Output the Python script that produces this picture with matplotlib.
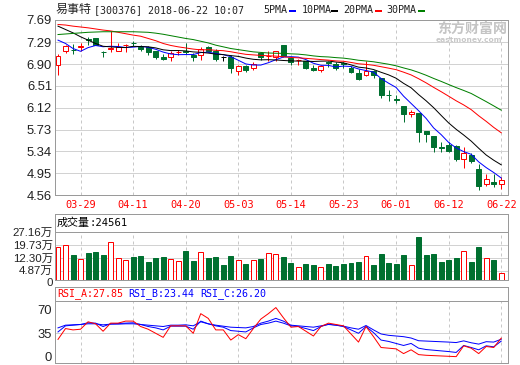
import matplotlib
matplotlib.use('Agg')
import matplotlib.pyplot as plt
from matplotlib.lines import Line2D
from matplotlib.transforms import ScaledTranslation
import numpy as np

# ---------------- data ----------------
dates = ['03-26', '03-27', '03-28', '03-29', '03-30', '04-02', '04-03', '04-04', '04-09', '04-10',
         '04-11', '04-12', '04-13', '04-16', '04-17', '04-18', '04-19', '04-20', '04-23', '04-24',
         '04-25', '04-26', '04-27', '05-02', '05-03', '05-04', '05-07', '05-08', '05-09', '05-10',
         '05-11', '05-14', '05-15', '05-16', '05-17', '05-18', '05-21', '05-22', '05-23', '05-24',
         '05-25', '05-28', '05-29', '05-30', '05-31', '06-01', '06-04', '06-05', '06-06', '06-07',
         '06-08', '06-11', '06-12', '06-13', '06-14', '06-15', '06-19', '06-20', '06-21', '06-22']
label_dates = ['03-29', '04-11', '04-20', '05-03', '05-14', '05-23', '06-01', '06-12', '06-22']

opens = [6.88, 7.14, 7.16, 7.21, 7.35, 7.36, 7.12, 7.18, 7.13, 7.24,
         7.28, 7.21, 7.20, 7.13, 7.02, 7.02, 7.11, 7.13, 7.07, 7.07,
         7.21, 7.14, 7.02, 7.02, 6.78, 6.87, 6.83, 7.10, 7.04, 7.02,
         7.24, 7.01, 6.97, 6.95, 6.84, 6.80, 6.93, 6.90, 6.92, 6.83,
         6.74, 6.70, 6.78, 6.66, 6.35, 6.28, 6.16, 6.00, 6.02, 5.70,
         5.61, 5.41, 5.45, 5.44, 5.20, 5.27, 5.02, 4.75, 4.80, 4.75]
closes = [7.05, 7.22, 7.15, 7.22, 7.34, 7.24, 7.11, 7.19, 7.20, 7.25,
          7.27, 7.18, 7.11, 7.02, 7.00, 7.10, 7.12, 7.12, 7.02, 7.18,
          7.13, 7.00, 7.02, 6.84, 6.86, 6.80, 6.90, 7.02, 7.05, 7.13,
          7.04, 6.93, 6.98, 6.83, 6.80, 6.86, 6.92, 6.84, 6.91, 6.76,
          6.64, 6.78, 6.70, 6.34, 6.34, 6.26, 6.00, 6.05, 5.69, 5.65,
          5.41, 5.40, 5.35, 5.20, 5.32, 5.17, 4.72, 4.84, 4.76, 4.83]
highs = [7.08, 7.25, 7.26, 7.28, 7.38, 7.37, 7.14, 7.49, 7.27, 7.26,
         7.31, 7.25, 7.22, 7.14, 7.08, 7.14, 7.16, 7.28, 7.10, 7.20,
         7.23, 7.18, 7.05, 7.06, 6.89, 6.88, 6.93, 7.12, 7.14, 7.14,
         7.24, 7.02, 7.00, 6.96, 6.89, 6.89, 6.95, 6.93, 6.94, 6.86,
         6.81, 6.96, 6.80, 6.66, 6.44, 6.35, 6.16, 6.08, 6.02, 5.70,
         5.61, 5.51, 5.51, 5.46, 5.42, 5.31, 5.11, 4.93, 4.93, 4.89]
lows = [6.71, 7.10, 7.08, 7.14, 7.25, 7.24, 7.02, 7.11, 7.13, 7.12,
        7.22, 7.13, 7.07, 6.99, 6.97, 6.95, 7.06, 7.09, 6.96, 6.98,
        7.11, 6.96, 6.95, 6.74, 6.71, 6.76, 6.80, 6.98, 6.95, 6.96,
        7.03, 6.89, 6.89, 6.82, 6.77, 6.76, 6.85, 6.79, 6.84, 6.75,
        6.62, 6.68, 6.66, 6.29, 6.25, 6.21, 5.87, 5.95, 5.50, 5.51,
        5.33, 5.33, 5.33, 5.16, 5.05, 5.13, 4.65, 4.72, 4.71, 4.66]

ma5 = [7.33, 7.27, 7.18, 7.13, 7.196, 7.234, 7.212, 7.22, 7.216, 7.198,
       7.204, 7.218, 7.202, 7.166, 7.116, 7.082, 7.07, 7.072, 7.072, 7.108,
       7.114, 7.09, 7.07, 7.034, 6.97, 6.904, 6.884, 6.884, 6.926, 6.98,
       7.028, 7.034, 7.026, 6.982, 6.916, 6.88, 6.878, 6.85, 6.866, 6.858,
       6.814, 6.786, 6.758, 6.644, 6.56, 6.484, 6.328, 6.198, 6.068, 5.93,
       5.76, 5.64, 5.50, 5.402, 5.336, 5.288, 5.152, 5.05, 4.962, 4.864]
ma10 = [7.58, 7.52, 7.46, 7.39, 7.33, 7.27, 7.22, 7.21, 7.20, 7.197,
        7.219, 7.215, 7.211, 7.191, 7.157, 7.143, 7.144, 7.137, 7.119, 7.112,
        7.098, 7.08, 7.071, 7.053, 7.039, 7.009, 6.987, 6.977, 6.98, 6.975,
        6.966, 6.959, 6.955, 6.954, 6.948, 6.954, 6.956, 6.938, 6.924, 6.887,
        6.847, 6.832, 6.804, 6.755, 6.709, 6.649, 6.557, 6.478, 6.356, 6.245,
        6.122, 5.984, 5.849, 5.735, 5.633, 5.524, 5.396, 5.275, 5.182, 5.10]
ma20 = [7.61, 7.60, 7.58, 7.565, 7.55, 7.53, 7.51, 7.495, 7.47, 7.445,
        7.42, 7.40, 7.36, 7.32, 7.27, 7.235, 7.21, 7.19, 7.17, 7.155,
        7.159, 7.148, 7.141, 7.122, 7.098, 7.076, 7.066, 7.057, 7.05, 7.044,
        7.032, 7.02, 7.013, 7.004, 6.994, 6.982, 6.972, 6.958, 6.952, 6.931,
        6.907, 6.896, 6.88, 6.855, 6.829, 6.802, 6.757, 6.708, 6.64, 6.566,
        6.485, 6.408, 6.327, 6.245, 6.171, 6.087, 5.977, 5.877, 5.769, 5.673]
ma30 = [7.43, 7.44, 7.45, 7.46, 7.47, 7.475, 7.48, 7.48, 7.48, 7.48,
        7.48, 7.475, 7.47, 7.455, 7.435, 7.41, 7.385, 7.36, 7.34, 7.31,
        7.28, 7.24, 7.21, 7.18, 7.16, 7.14, 7.12, 7.11, 7.10, 7.095,
        7.094, 7.085, 7.079, 7.066, 7.048, 7.035, 7.029, 7.017, 7.008, 6.991,
        6.97, 6.957, 6.943, 6.921, 6.899, 6.871, 6.833, 6.798, 6.753, 6.702,
        6.645, 6.592, 6.536, 6.481, 6.43, 6.376, 6.303, 6.23, 6.154, 6.077]

volume = [18.5, 19.6, 14.1, 11.7, 15.5, 15.8, 14.1, 21.3, 12.3, 11.1,
          12.8, 13.6, 10.2, 12.3, 12.8, 11.7, 10.6, 16.4, 10.8, 15.7,
          12.3, 12.8, 8.5, 13.6, 11.1, 9.1, 11.1, 11.9, 15.1, 14.5,
          12.8, 9.8, 7.5, 9.1, 8.5, 7.2, 9.1, 7.9, 9.1, 9.6,
          10.2, 13.4, 8.5, 14.7, 9.6, 9.1, 14.1, 8.3, 24.3, 14.1,
          14.7, 10.2, 11.3, 12.4, 16.2, 10.2, 18.7, 12.3, 11.3, 4.2]

rsi_a = [26, 42, 40, 41, 52, 49, 38, 50, 50, 53,
         53, 45, 41, 35, 29, 46, 46, 46, 35, 64,
         57, 40, 40, 25, 33, 27, 42, 56, 64, 73,
         58, 44, 45, 38, 31, 45, 50, 48, 46, 34,
         22, 45, 30, 14, 13, 12, 5, 10.6, 3.5, 2.5,
         2, 1.5, 1, 0.5, 16.5, 13, 5, 15.5, 14, 27.85]
rsi_b = [37, 46, 47, 48, 50.5, 50, 45, 49, 49.5, 50,
         50.5, 48, 45, 43, 40, 45.5, 45.5, 45.5, 41, 53,
         49, 46, 44, 39, 38, 37, 43, 48, 50, 53,
         50, 46, 45, 42, 39, 45, 48.5, 47, 45, 40,
         35, 45, 36, 25, 23, 20, 17, 20, 13, 11,
         10, 9, 8, 6.7, 17, 14, 10.6, 16.5, 15, 23.44]
rsi_c = [43, 47, 47.5, 48, 49, 49, 47.5, 48.5, 48.5, 49,
         49, 48, 47, 46, 45, 47, 47, 47.5, 46, 52,
         49, 47, 45.5, 44, 43.5, 43, 45, 50, 53, 57,
         53, 47, 46, 45, 44, 46, 48, 47, 45.5, 43,
         41, 46.5, 40, 34, 32, 31, 30, 28, 24, 23.5,
         23, 22.5, 22, 21.3, 23.8, 21, 19, 22.6, 22, 26.2]

price_ticks = [4.56, 4.95, 5.34, 5.73, 6.12, 6.51, 6.90, 7.29, 7.69]
vol_ticks = [0, 4.87, 12.30, 19.73, 27.16]
rsi_ticks = [0, 35, 70]
last_volume = 24561

# ---------------- style ----------------
W, H = 520, 365
DPI = 100
PX = 72.0 / DPI  # points per pixel
RED = '#ff0000'
GREEN = '#007030'
BLUE = '#0000ff'
SPINE = '#9a9a9a'
GRID = '#d2d2d2'
MONO = ['DejaVu Sans Mono', 'Noto Sans CJK SC']
CJK = ['Noto Sans CJK SC']
LAB = ['Liberation Sans', 'Noto Sans CJK SC']

fig = plt.figure(figsize=(W / DPI, H / DPI), dpi=DPI)
fig.patch.set_facecolor('white')


def ax_at(l, t, r, b):
    return fig.add_axes([l / W, 1 - b / H, (r - l) / W, (b - t) / H])


def ftext(x, y, s, **kw):
    kw.setdefault('va', 'center')
    kw.setdefault('ha', 'left')
    return fig.text(x / W, 1 - y / H, s, **kw)


def style(ax):
    for sp in ax.spines.values():
        sp.set_color(SPINE)
        sp.set_linewidth(1 * PX)
    ax.tick_params(length=0)
    ax.set_facecolor('white')


x = np.arange(len(dates))
tick_pos = [dates.index(d) for d in label_dates]
XL = (-0.4, len(dates) - 0.1)


def vgrid(ax):
    ax.set_xticks(tick_pos)
    ax.grid(axis='x', color='#c8c8c8', lw=1 * PX, ls=(0, (3, 3)))
    ax.set_axisbelow(True)


o = np.array(opens); c = np.array(closes); h = np.array(highs); lo = np.array(lows)
up = c > o
flat = c == o
cand_col = np.where(up, RED, np.where(flat, '#000000', GREEN))
vol_col = np.where(up, RED, GREEN)
BW = 0.66

# ---------------- price panel ----------------
axp = ax_at(55, 20, 508, 195)
style(axp)
axp.set_xlim(*XL)
axp.set_ylim(price_ticks[0], price_ticks[-1])
axp.set_yticks(price_ticks)
axp.set_yticklabels(['%.2f' % v for v in price_ticks], family=LAB, fontsize=13 * PX, color='#222')
axp.tick_params(axis='y', pad=3 * PX)
axp.grid(axis='y', color=GRID, lw=1 * PX, ls='-')
vgrid(axp)
axp.set_xticklabels(label_dates, family=MONO, fontsize=10.3 * PX, color=RED)
axp.tick_params(axis='x', pad=5 * PX)

axp.vlines(x, lo, h, colors=cand_col, lw=1 * PX, zorder=3)
bottoms = np.minimum(o, c)
heights = np.maximum(np.abs(c - o), 0.004)
faces = np.where(up, 'white', cand_col)
axp.bar(x, heights, bottom=bottoms, width=BW, color=faces, edgecolor=cand_col,
        linewidth=1 * PX, zorder=4)

for ma, col in [(ma5, BLUE), (ma10, '#000000'), (ma20, RED), (ma30, '#008000')]:
    axp.plot(x, ma, color=col, lw=1 * PX, zorder=5)

# ---------------- volume panel ----------------
axvh = ax_at(55, 214, 508, 232)
style(axvh)
axvh.set_xticks([]); axvh.set_yticks([])

axv = ax_at(55, 232, 508, 280)
style(axv)
axv.set_xlim(*XL)
axv.set_ylim(vol_ticks[0], vol_ticks[-1])
axv.set_yticks(vol_ticks)
axv.set_yticklabels(['0'] + ['%.2f万' % v for v in vol_ticks[1:]], family=LAB,
                    fontsize=11.5 * PX, color='#222')
axv.tick_params(axis='y', pad=2 * PX)
axv.grid(axis='y', color=GRID, lw=1 * PX, ls='-')
vgrid(axv)
axv.set_xticklabels([])
ylabs = axv.get_yticklabels()
ylabs[0].set_transform(ylabs[0].get_transform() + ScaledTranslation(0, -1.5 / DPI, fig.dpi_scale_trans))
ylabs[1].set_transform(ylabs[1].get_transform() + ScaledTranslation(0, 1.5 / DPI, fig.dpi_scale_trans))
vfaces = np.where(up, 'white', vol_col)
axv.bar(x, volume, width=BW, color=vfaces, edgecolor=vol_col, linewidth=1 * PX, zorder=4)

# ---------------- RSI panel ----------------
axrh = ax_at(55, 287, 508, 301)
style(axrh)
axrh.set_xticks([]); axrh.set_yticks([])

axr = ax_at(55, 301, 508, 363)
style(axr)
axr.set_xlim(*XL)
axr.set_ylim(-8.9, 82.7)
axr.set_yticks(rsi_ticks)
axr.set_yticklabels([str(v) for v in rsi_ticks], family=LAB, fontsize=13 * PX, color='#222')
axr.tick_params(axis='y', pad=3 * PX)
axr.axhline(rsi_ticks[1], color=GRID, lw=1 * PX, zorder=1)
vgrid(axr)
axr.set_xticklabels([])
axr.plot(x, rsi_c, color=BLUE, lw=1 * PX, zorder=4)
axr.plot(x, rsi_b, color=BLUE, lw=1 * PX, zorder=4)
axr.plot(x, rsi_a, color=RED, lw=1 * PX, zorder=5)

# ---------------- header texts ----------------
ftext(56, 9, '易事特', family=CJK, fontsize=12 * PX, color='#222')
ftext(94, 10, '[300376] 2018-06-22 10:07', family=MONO, fontsize=10 * PX, color='#222')
leg = [('5PMA', 263, 290, BLUE), ('10PMA', 302, 332, '#000000'),
       ('20PMA', 343, 376, RED), ('30PMA', 386, 419, '#008000')]
for name, tx, lx, col in leg:
    ftext(tx, 10, name, family=MONO, fontsize=10 * PX, color='#222')
    fig.add_artist(Line2D([lx / W, (lx + 5) / W], [1 - 11 / H, 1 - 11 / H], color=col,
                          lw=2 * PX, transform=fig.transFigure))

ftext(57, 223, '成交量', family=CJK, fontsize=11 * PX, color='#000')
ftext(89, 223.5, ':%d' % last_volume, family=MONO, fontsize=10.5 * PX, color='#000')
ftext(57, 294, 'RSI_A:%.2f' % rsi_a[-1], family=MONO, fontsize=10 * PX, color=RED)
ftext(128, 294, 'RSI_B:%.2f' % rsi_b[-1], family=MONO, fontsize=10 * PX, color=BLUE)
ftext(200, 294, 'RSI_C:%.2f' % rsi_c[-1], family=MONO, fontsize=10 * PX, color=BLUE)

# watermark
ftext(437, 29, '东方财富网', family=CJK, fontsize=14 * PX,
      color='#c4c4c4', fontweight='bold')
ftext(436, 40, 'eastmoney.com', family=['DejaVu Sans'], fontsize=7.5 * PX,
      color='#c8c8c8', fontweight='bold')

fig.savefig('out.png', dpi=DPI, facecolor='white')
